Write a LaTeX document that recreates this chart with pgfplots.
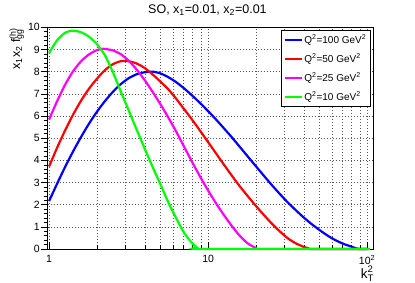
\documentclass[border=0pt]{standalone}
\usepackage{fontspec}
\setmainfont{Liberation Sans}
\usepackage{pgfplots}
\pgfplotsset{compat=1.18}
\begin{document}
\begin{tikzpicture}
\begin{axis}[
  name=ax, scale only axis, width=326pt, height=221.7pt,
  xmode=log, log basis x=10, xmin=0.98, xmax=110, ymin=0, ymax=10,
  clip=false,
  /pgf/number format/assume math mode=true,
  xtick={1,10,100}, xticklabels={1,10,10\textsuperscript{2}},
  minor xtick={2,3,4,5,6,7,8,9,20,30,40,50,60,70,80,90},
  ytick={0,1,2,3,4,5,6,7,8,9,10}, minor y tick num=4,
  xmajorgrids, xminorgrids, ymajorgrids,
  major grid style={black!65, line width=0.5pt, dash pattern=on 1pt off 2pt},
  minor grid style={black!65, line width=0.5pt, dash pattern=on 1pt off 2pt},
  tick pos=left, xtick align=inside, ytick align=outside,
  major tick length=7pt, minor tick length=4pt,
  tick style={black, line width=0.5pt},
  axis line style={black, line width=0.6pt},
  tick label style={font=\fontsize{10.5}{12}\selectfont},
  xticklabel style={yshift=-2.5pt},
  yticklabel style={inner xsep=0.8pt},
  legend style={at={(1,1)}, anchor=north east, xshift=-3.7pt, yshift=-2.7pt,
    draw=black, fill=white, font=\fontsize{10}{12}\selectfont,
    inner xsep=2pt, inner ysep=3pt, row sep=6pt, line width=0.5pt,
    nodes={inner sep=1.5pt}},
  legend cell align=left,
  legend image code/.code={\draw[#1] (0pt,0pt) -- (17pt,0pt);},
  every axis plot/.append style={line width=2.2pt, smooth, tension=0.4},
]
\addplot[color={rgb,255:red,0;green,0;blue,255}] coordinates {
(1,2.16) (1.122,2.94) (1.259,3.69) (1.413,4.39) (1.585,5.04) (1.778,5.64) (1.995,6.18) (2.239,6.66) (2.512,7.08) (2.818,7.43) (3.162,7.70) (3.548,7.88) (3.981,7.97) (4.467,8.0) (5.012,7.92) (5.623,7.75) (6.310,7.52) (7.079,7.24) (7.943,6.92) (8.913,6.58) (10,6.22) (11.22,5.84) (12.59,5.44) (14.13,5.03) (15.85,4.60) (17.78,4.17) (19.95,3.74) (22.39,3.31) (25.12,2.89) (28.18,2.49) (31.62,2.11) (35.48,1.76) (39.81,1.43) (44.67,1.13) (50.12,0.86) (56.23,0.61) (63.10,0.40) (70.79,0.235) (79.43,0.11) (85.1,0.03) (89.13,0) (100,0)};
\addlegendentry{Q\textsuperscript{2}=100 GeV\textsuperscript{2}}
\addplot[color={rgb,255:red,255;green,0;blue,0}] coordinates {
(1,3.72) (1.122,4.56) (1.259,5.34) (1.413,6.05) (1.585,6.68) (1.778,7.22) (1.995,7.67) (2.239,8.06) (2.512,8.33) (2.818,8.47) (3.162,8.47) (3.548,8.37) (3.981,8.17) (4.467,7.88) (5.012,7.55) (5.623,7.20) (6.310,6.77) (7.079,6.30) (7.943,5.83) (8.913,5.33) (10,4.82) (11.22,4.31) (12.59,3.80) (14.13,3.30) (15.85,2.82) (17.78,2.38) (19.95,1.95) (22.39,1.54) (25.12,1.15) (28.18,0.80) (31.62,0.49) (35.48,0.26) (39.81,0.10) (42.66,0.03) (45.7,0) (100,0)};
\addlegendentry{Q\textsuperscript{2}=50 GeV\textsuperscript{2}}
\addplot[color={rgb,255:red,255;green,0;blue,255}] coordinates {
(1,5.84) (1.122,6.66) (1.259,7.40) (1.413,8.01) (1.585,8.46) (1.778,8.77) (1.995,8.97) (2.188,9.03) (2.512,8.96) (2.818,8.79) (3.162,8.50) (3.548,8.10) (3.981,7.63) (4.467,7.10) (5.012,6.53) (5.623,5.93) (6.310,5.285) (7.079,4.60) (7.943,3.92) (8.913,3.26) (10,2.64) (11.22,2.06) (12.59,1.525) (14.13,1.03) (15.85,0.59) (17.78,0.25) (19.95,0.05) (21.88,0) (100,0)};
\addlegendentry{Q\textsuperscript{2}=25 GeV\textsuperscript{2}}
\addplot[color={rgb,255:red,0;green,255;blue,0}] coordinates {
(1,8.84) (1.122,9.41) (1.259,9.75) (1.4,9.85) (1.585,9.78) (1.778,9.58) (1.995,9.25) (2.239,8.75) (2.512,8.0) (2.818,7.12) (3.162,6.26) (3.548,5.40) (3.981,4.55) (4.467,3.72) (5.012,2.92) (5.623,2.10) (6.310,1.38) (7.079,0.72) (7.943,0.26) (8.511,0.07) (9.12,0) (104,0)};
\addlegendentry{Q\textsuperscript{2}=10 GeV\textsuperscript{2}}
\node[anchor=base, font=\fontsize{12.5}{14}\selectfont] at ([yshift=13.3pt]rel axis cs:0.49,1) {SO, x\textsubscript{1}=0.01, x\textsubscript{2}=0.01};
\end{axis}
\node[rotate=90, anchor=base east, inner sep=0pt, font=\fontsize{12.5}{14}\selectfont] at ([xshift=-27.5pt,yshift=-0.7pt]ax.north west) {x\textsubscript{1}x\textsubscript{2} f\rlap{\textsubscript{gg}}\textsuperscript{(h)}};
\node[anchor=base east, inner sep=0pt, font=\fontsize{13.5}{15}\selectfont] at ([xshift=-0.5pt,yshift=-29.5pt]ax.south east) {k\rlap{\raisebox{-3.4pt}{\fontsize{9.5}{10}\selectfont T}}\raisebox{5.6pt}{\fontsize{9.5}{10}\selectfont 2}};
\pgfresetboundingbox
\path[use as bounding box] ([xshift=-47.7pt,yshift=-34pt]ax.south west) rectangle ([xshift=41.3pt,yshift=27.3pt]ax.north east);
\end{tikzpicture}
\end{document}
